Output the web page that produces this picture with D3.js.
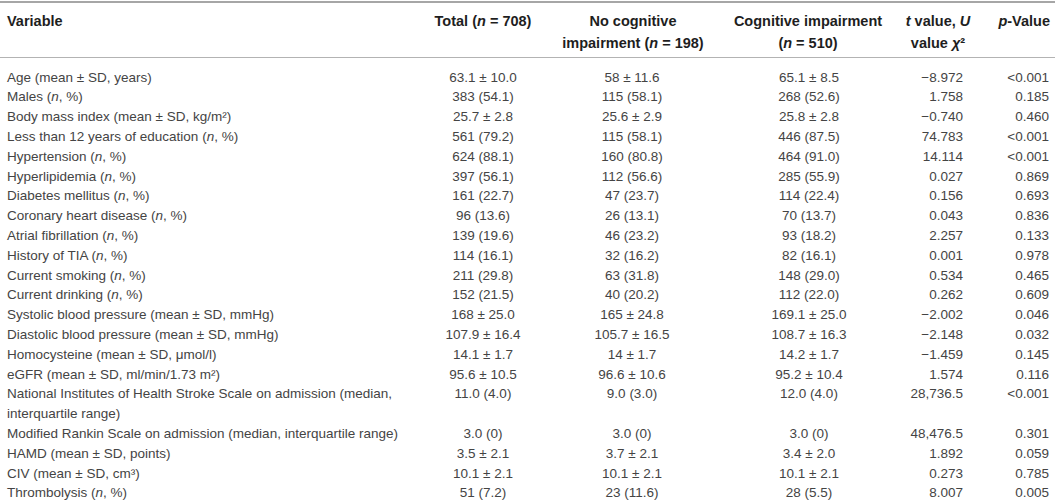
<!DOCTYPE html>
<html>
<head>
<meta charset="utf-8">
<script src="https://cdn.jsdelivr.net/npm/d3@7"></script>
<style>
  html, body { margin: 0; padding: 0; background: #fff; }
  svg { display: block; }
</style>
</head>
<body>
<div id="table"></div>
<script>
// ─── DATA ─────────────────────────────────────────────────────────────────────
// "_" toggles italic, "|" breaks the label onto a second line
const headers = [
  ["Variable"],
  ["Total (_n_ = 708)"],
  ["No cognitive", "impairment (_n_ = 198)"],
  ["Cognitive impairment", "(_n_ = 510)"],
  ["_t_ value, _U_", "value _χ_²"],
  ["_p_-Value"]
];

const variables = [
  "Age (mean ± SD, years)",
  "Males (_n_, %)",
  "Body mass index (mean ± SD, kg/m²)",
  "Less than 12 years of education (_n_, %)",
  "Hypertension (_n_, %)",
  "Hyperlipidemia (_n_, %)",
  "Diabetes mellitus (_n_, %)",
  "Coronary heart disease (_n_, %)",
  "Atrial fibrillation (_n_, %)",
  "History of TIA (_n_, %)",
  "Current smoking (_n_, %)",
  "Current drinking (_n_, %)",
  "Systolic blood pressure (mean ± SD, mmHg)",
  "Diastolic blood pressure (mean ± SD, mmHg)",
  "Homocysteine (mean ± SD, μmol/l)",
  "eGFR (mean ± SD, ml/min/1.73 m²)",
  "National Institutes of Health Stroke Scale on admission (median,|interquartile range)",
  "Modified Rankin Scale on admission (median, interquartile range)",
  "HAMD (mean ± SD, points)",
  "CIV (mean ± SD, cm³)",
  "Thrombolysis (_n_, %)"
];

const totalValues = [
  "63.1 ± 10.0", "383 (54.1)", "25.7 ± 2.8", "561 (79.2)", "624 (88.1)",
  "397 (56.1)", "161 (22.7)", "96 (13.6)", "139 (19.6)", "114 (16.1)",
  "211 (29.8)", "152 (21.5)", "168 ± 25.0", "107.9 ± 16.4", "14.1 ± 1.7",
  "95.6 ± 10.5", "11.0 (4.0)", "3.0 (0)", "3.5 ± 2.1", "10.1 ± 2.1", "51 (7.2)"
];

const noImpairmentValues = [
  "58 ± 11.6", "115 (58.1)", "25.6 ± 2.9", "115 (58.1)", "160 (80.8)",
  "112 (56.6)", "47 (23.7)", "26 (13.1)", "46 (23.2)", "32 (16.2)",
  "63 (31.8)", "40 (20.2)", "165 ± 24.8", "105.7 ± 16.5", "14 ± 1.7",
  "96.6 ± 10.6", "9.0 (3.0)", "3.0 (0)", "3.7 ± 2.1", "10.1 ± 2.1", "23 (11.6)"
];

const impairmentValues = [
  "65.1 ± 8.5", "268 (52.6)", "25.8 ± 2.8", "446 (87.5)", "464 (91.0)",
  "285 (55.9)", "114 (22.4)", "70 (13.7)", "93 (18.2)", "82 (16.1)",
  "148 (29.0)", "112 (22.0)", "169.1 ± 25.0", "108.7 ± 16.3", "14.2 ± 1.7",
  "95.2 ± 10.4", "12.0 (4.0)", "3.0 (0)", "3.4 ± 2.0", "10.1 ± 2.1", "28 (5.5)"
];

const statValues = [
  "−8.972", "1.758", "−0.740", "74.783", "14.114", "0.027", "0.156", "0.043",
  "2.257", "0.001", "0.534", "0.262", "−2.002", "−2.148", "−1.459", "1.574",
  "28,736.5", "48,476.5", "1.892", "0.273", "8.007"
];

const pValues = [
  "<0.001", "0.185", "0.460", "<0.001", "<0.001", "0.869", "0.693", "0.836",
  "0.133", "0.978", "0.465", "0.609", "0.046", "0.032", "0.145", "0.116",
  "<0.001", "0.301", "0.059", "0.785", "0.005"
];

// ─── LAYOUT ───────────────────────────────────────────────────────────────────
const width = 1055;
const height = 501;
const fontFamily = "'Liberation Sans', Arial, Helvetica, sans-serif";
const fontSize = 13.5;
const headerFontSize = 14.5;

// column placement: header x / anchor, value x / anchor
const columns = [
  { hx: 7,    ha: "start",  vx: 7,    va: "start",  values: null },
  { hx: 483,  ha: "middle", vx: 483,  va: "middle", values: totalValues },
  { hx: 633,  ha: "middle", vx: 632,  va: "middle", values: noImpairmentValues },
  { hx: 808,  ha: "middle", vx: 809,  va: "middle", values: impairmentValues },
  { hx: 938,  ha: "middle", vx: 963,  va: "end",    values: statValues },
  { hx: 1050, ha: "end",    vx: 1049, va: "end",    values: pValues }
];

// line index → baseline y
const lineStep = 19.8;
const firstBodyBaseline = 81.5;
const headerBaselines = [26, 48];

// ─── HELPERS ──────────────────────────────────────────────────────────────────
function writeRich(textSel, str) {
  str.split("_").forEach((part, i) => {
    if (!part) return;
    textSel.append("tspan")
      .style("font-style", i % 2 === 1 ? "italic" : "normal")
      .text(part);
  });
}

// ─── DRAW ─────────────────────────────────────────────────────────────────────
const svg = d3.select("#table")
  .append("svg")
  .attr("width", width)
  .attr("height", height)
  .style("font-family", fontFamily)
  .style("font-size", fontSize + "px");

// rows: where does each variable start (NIHSS wraps onto 2 lines)
const rowLines = [];
let line = 0;
variables.forEach(v => {
  rowLines.push(line);
  line += v.split("|").length;
});

const yScale = d3.scaleLinear()
  .domain([0, 1])
  .range([firstBodyBaseline, firstBodyBaseline + lineStep]);

// rules
svg.append("line")
  .attr("x1", 0).attr("x2", width)
  .attr("y1", 2).attr("y2", 2)
  .attr("stroke", "#a6a6a6")
  .attr("stroke-width", 2);

svg.append("line")
  .attr("x1", 0).attr("x2", width)
  .attr("y1", 57.5).attr("y2", 57.5)
  .attr("stroke", "#b3b3b3")
  .attr("stroke-width", 1);

// header
const header = svg.append("g")
  .style("font-weight", "bold")
  .style("font-size", headerFontSize + "px")
  .attr("fill", "#1e1e1e");

headers.forEach((lines, c) => {
  lines.forEach((str, k) => {
    const t = header.append("text")
      .attr("x", columns[c].hx)
      .attr("y", headerBaselines[k])
      .attr("text-anchor", columns[c].ha);
    writeRich(t, str);
  });
});

// body
const body = svg.append("g").attr("fill", "#444");

variables.forEach((v, r) => {
  v.split("|").forEach((str, k) => {
    const t = body.append("text")
      .attr("x", columns[0].vx)
      .attr("y", yScale(rowLines[r] + k))
      .attr("text-anchor", "start");
    writeRich(t, str);
  });
});

columns.slice(1).forEach(col => {
  body.selectAll(null)
    .data(col.values)
    .enter()
    .append("text")
    .attr("x", col.vx)
    .attr("y", (d, i) => yScale(rowLines[i]))
    .attr("text-anchor", col.va)
    .text(d => d);
});
</script>
</body>
</html>
